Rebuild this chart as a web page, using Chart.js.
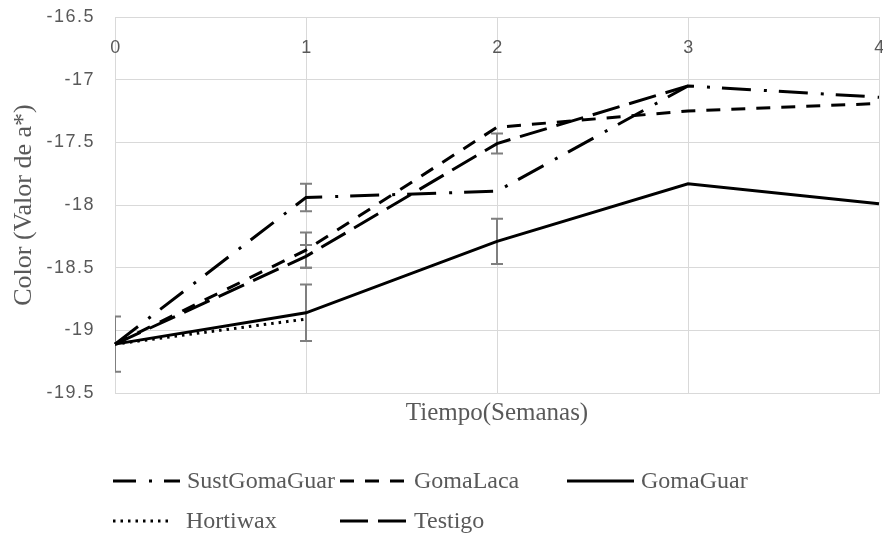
<!DOCTYPE html>
<html>
<head>
<meta charset="utf-8">
<script src="https://cdn.jsdelivr.net/npm/chart.js@4/dist/chart.umd.min.js"></script>
<style>
  html, body { margin: 0; padding: 0; background: #fff; }
  #wrap { width: 883px; height: 535px; position: relative; }
</style>
</head>
<body>
<div id="wrap"><canvas id="colorChart"></canvas></div>
<script>
// Semanas de almacenamiento
const weeks = ['0', '1', '2', '3', '4'];

// Color (valor de a*) por tratamiento
const sustGomaGuar = [-19.11, -17.94, -17.89, -17.05, -17.14];
const gomaLaca = [-19.11, -18.36, -17.38, -17.25, -17.19];
const gomaGuar = [-19.11, -18.86, -18.29, -17.83, -17.99];
const hortiwax = [-19.11, -18.91, null, null, null];
const testigo = [-19.11, -18.41, -17.51, -17.05, null];

// Barras de error (+/-)
const sustGomaGuarErr = [null, 0.11, null, null, null];
const gomaLacaErr = [null, 0.14, null, null, null];
const gomaGuarErr = [0.22, 0.225, 0.18, null, null];
const hortiwaxErr = [null, null, null, null, null];
const testigoErr = [null, 0.09, 0.08, null, null];

const yTicks = [-16.5, -17, -17.5, -18, -18.5, -19, -19.5];

const GRID = '#d9d9d9';
const TEXT = '#595959';
const SERIF = '"Liberation Serif", "Times New Roman", serif';
const SANS = '"Liberation Sans", Arial, sans-serif';

const series = [
  { label: 'SustGomaGuar', data: sustGomaGuar, err: sustGomaGuarErr, dash: [29, 13, 3, 12], legendOffset: 6 },
  { label: 'GomaLaca', data: gomaLaca, err: gomaLacaErr, dash: [14, 11], legendOffset: 0 },
  { label: 'GomaGuar', data: gomaGuar, err: gomaGuarErr, dash: [], legendOffset: 0 },
  { label: 'Hortiwax', data: hortiwax, err: hortiwaxErr, dash: [2.5, 5], legendOffset: 0 },
  { label: 'Testigo', data: testigo, err: testigoErr, dash: [28, 10], legendOffset: 0 }
];

// legend slots: [symbol x, row y]
const legendSlots = [[113, 481], [340, 481], [567, 481], [113, 521], [340, 521]];

const decor = {
  id: 'decor',
  beforeDraw(chart) {
    chart.ctx.letterSpacing = '1.5px';
  },
  beforeDatasetsDraw(chart) {
    const { ctx, chartArea, scales } = chart;
    ctx.save();
    ctx.beginPath();
    ctx.rect(chartArea.left, chartArea.top, chartArea.right - chartArea.left, chartArea.bottom - chartArea.top);
    ctx.clip();
    ctx.strokeStyle = '#7f7f7f';
    ctx.lineWidth = 2;
    series.forEach((s) => {
      s.err.forEach((e, i) => {
        if (e == null || s.data[i] == null) return;
        const x = scales.x.getPixelForValue(i);
        const yTop = scales.y.getPixelForValue(s.data[i] + e);
        const yBot = scales.y.getPixelForValue(s.data[i] - e);
        ctx.beginPath();
        ctx.moveTo(x, yTop); ctx.lineTo(x, yBot);
        ctx.moveTo(x - 6, yTop); ctx.lineTo(x + 6, yTop);
        ctx.moveTo(x - 6, yBot); ctx.lineTo(x + 6, yBot);
        ctx.stroke();
      });
    });
    ctx.restore();
  },
  afterDraw(chart) {
    const { ctx, chartArea, scales } = chart;
    ctx.save();
    ctx.letterSpacing = '1.5px';
    ctx.fillStyle = TEXT;

    // etiquetas del eje X (dentro del área, bajo el borde superior)
    ctx.font = '18px ' + SANS;
    ctx.textAlign = 'center';
    ctx.textBaseline = 'middle';
    scales.x.ticks.forEach((t, i) => {
      ctx.fillText(weeks[i], scales.x.getPixelForValue(i) + 1, chartArea.top + 31);
    });

    ctx.letterSpacing = '0px';
    // título eje X
    ctx.font = '25px ' + SERIF;
    ctx.fillText('Tiempo(Semanas)', (chartArea.left + chartArea.right) / 2, 413);

    // título eje Y
    ctx.save();
    ctx.translate(24, (chartArea.top + chartArea.bottom) / 2);
    ctx.rotate(-Math.PI / 2);
    ctx.font = '26px ' + SERIF;
    ctx.fillText('Color (Valor de a*)', 0, 0);
    ctx.restore();

    // leyenda
    ctx.textAlign = 'left';
    ctx.font = '24px ' + SERIF;
    series.forEach((s, i) => {
      const [x, y] = legendSlots[i];
      ctx.save();
      ctx.strokeStyle = '#000';
      ctx.lineWidth = 3;
      ctx.setLineDash(s.dash);
      ctx.lineDashOffset = s.legendOffset;
      ctx.beginPath();
      ctx.moveTo(x, y);
      ctx.lineTo(x + (s.label === 'Hortiwax' ? 60 : 67), y);
      ctx.stroke();
      ctx.restore();
      ctx.fillText(s.label, x + (s.label === 'Hortiwax' ? 73 : 74), y + 1);
    });
    ctx.restore();
  }
};

new Chart(document.getElementById('colorChart'), {
  type: 'line',
  data: {
    labels: weeks,
    datasets: series.map((s) => ({
      label: s.label,
      data: s.data,
      borderColor: '#000',
      backgroundColor: '#000',
      borderWidth: 3,
      borderDash: s.dash,
      pointRadius: 0,
      pointHoverRadius: 0,
      tension: 0,
      fill: false,
      spanGaps: false
    }))
  },
  options: {
    responsive: true,
    maintainAspectRatio: false,
    animation: false,
    events: [],
    layout: { padding: { left: 0, top: 17, right: 4, bottom: 142 } },
    plugins: {
      legend: { display: false },
      tooltip: { enabled: false }
    },
    scales: {
      x: {
        type: 'category',
        offset: false,
        grid: { color: GRID, lineWidth: 1, drawTicks: false },
        border: { color: GRID },
        ticks: { display: false },
        afterFit(scale) {
          scale.height = 0;
          scale.paddingLeft = 0;
          scale.paddingRight = 0;
        }
      },
      y: {
        min: -19.5,
        max: -16.5,
        afterBuildTicks(scale) {
          scale.ticks = yTicks.map((v) => ({ value: v }));
        },
        grid: { color: GRID, lineWidth: 1, drawTicks: false },
        border: { color: GRID },
        ticks: {
          color: TEXT,
          padding: 20,
          font: { family: SANS, size: 18 },
          callback: (v) => String(Math.round(v * 10) / 10)
        },
        afterFit(scale) {
          scale.width = 115;
          scale.paddingTop = 0;
          scale.paddingBottom = 0;
        }
      }
    }
  },
  plugins: [decor]
});
</script>
</body>
</html>
